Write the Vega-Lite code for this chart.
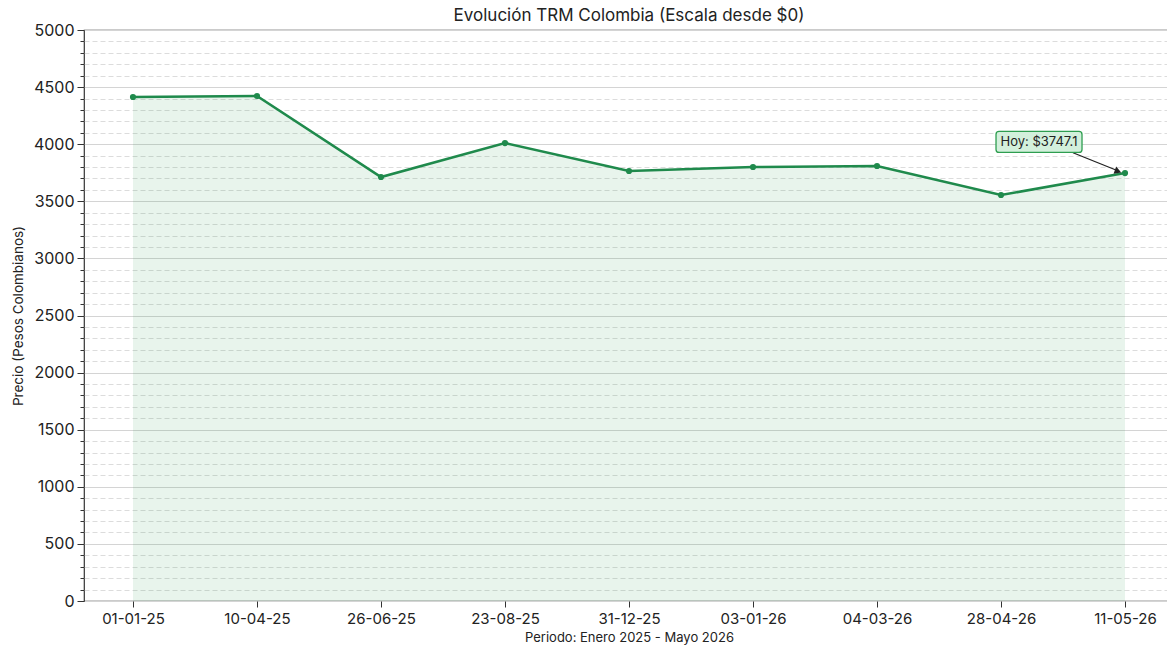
{
  "$schema": "https://vega.github.io/schema/vega-lite/v6.json",
  "width": 1090,
  "height": 571,
  "autosize": {"type": "none"},
  "padding": {"left": 84, "top": 30, "right": 0, "bottom": 45},
  "background": "white",
  "config": {
    "font": "Inter",
    "view": {"stroke": "#333333", "strokeWidth": 1.2},
    "axis": {"labelFont": "Inter", "titleFont": "Inter", "labelColor": "#222", "titleColor": "#222", "titleFontWeight": "normal"}
  },
  "title": {"text": "Evolución TRM Colombia (Escala desde $0)", "fontSize": 17, "fontWeight": "normal", "color": "#222", "offset": -3, "font": "Inter"},
  "datasets": {
    "trm": [
      {"fecha": "01-01-25", "precio": 4413},
      {"fecha": "10-04-25", "precio": 4422},
      {"fecha": "26-06-25", "precio": 3713},
      {"fecha": "23-08-25", "precio": 4010},
      {"fecha": "31-12-25", "precio": 3765},
      {"fecha": "03-01-26", "precio": 3800},
      {"fecha": "04-03-26", "precio": 3809},
      {"fecha": "28-04-26", "precio": 3555},
      {"fecha": "11-05-26", "precio": 3747.1}
    ],
    "nota": [
      {"fecha": "28-04-26", "fecha2": "11-05-26", "y": 4020, "ya": 3925, "yb": 3763, "label": "Hoy: $3747.1"}
    ]
  },
  "resolve": {"axis": {"y": "independent"}},
  "layer": [
    {
      "data": {"name": "trm"},
      "mark": {"type": "area", "color": "#2e9e50", "opacity": 0.11},
      "encoding": {
        "x": {"field": "fecha", "type": "ordinal", "sort": null, "scale": {"type": "point", "padding": 0.395},
          "axis": {"title": "Periodo: Enero 2025 - Mayo 2026", "titleFontSize": 13, "titlePadding": 5, "labelFontSize": 15, "labelAngle": 0, "labelPadding": 4, "tickSize": 6, "tickColor": "#333", "domain": false, "grid": false}},
        "y": {"field": "precio", "type": "quantitative", "scale": {"domain": [0, 5000], "nice": false, "zero": true},
          "axis": {"title": "Precio (Pesos Colombianos)", "titleFontSize": 13.5, "titlePadding": 8, "format": "d", "values": [0,500,1000,1500,2000,2500,3000,3500,4000,4500,5000], "labelFontSize": 16, "labelPadding": 3, "tickSize": 7, "tickColor": "#333", "domain": false, "grid": true, "gridColor": "#d4d4d4", "gridWidth": 1}}
      }
    },
    {
      "data": {"name": "trm"},
      "mark": {"type": "line", "color": "#1f8a4c", "strokeWidth": 2.6},
      "encoding": {
        "x": {"field": "fecha", "type": "ordinal", "sort": null},
        "y": {"field": "precio", "type": "quantitative",
          "axis": {"title": null, "orient": "left", "values": [100,200,300,400,600,700,800,900,1100,1200,1300,1400,1600,1700,1800,1900,2100,2200,2300,2400,2600,2700,2800,2900,3100,3200,3300,3400,3600,3700,3800,3900,4100,4200,4300,4400,4600,4700,4800,4900], "labels": false, "tickSize": 4, "tickColor": "#333", "domain": false, "grid": true, "gridColor": "#dcdcdc", "gridDash": [5, 3], "gridWidth": 1}}
      }
    },
    {
      "data": {"name": "trm"},
      "mark": {"type": "point", "filled": true, "color": "#1f8a4c", "size": 38, "opacity": 1},
      "encoding": {
        "x": {"field": "fecha", "type": "ordinal", "sort": null},
        "y": {"field": "precio", "type": "quantitative", "axis": null}
      }
    },
    {
      "data": {"name": "nota"},
      "mark": {"type": "rule", "color": "#222", "strokeWidth": 1.3, "xOffset": 72, "x2Offset": -6},
      "encoding": {
        "x": {"field": "fecha", "type": "ordinal", "sort": null},
        "x2": {"field": "fecha2"},
        "y": {"field": "ya", "type": "quantitative", "axis": null},
        "y2": {"field": "yb"}
      }
    },
    {
      "data": {"name": "nota"},
      "mark": {"type": "point", "shape": "triangle-right", "filled": true, "color": "#222", "size": 60, "angle": 20, "opacity": 1, "xOffset": -7},
      "encoding": {
        "x": {"field": "fecha2", "type": "ordinal", "sort": null},
        "y": {"field": "yb", "type": "quantitative", "axis": null}
      }
    },
    {
      "data": {"name": "nota"},
      "mark": {"type": "point", "shape": "M-0.93,-0.244 L0.93,-0.244 Q1,-0.244 1,-0.174 L1,0.174 Q1,0.244 0.93,0.244 L-0.93,0.244 Q-1,0.244 -1,0.174 L-1,-0.174 Q-1,-0.244 -0.93,-0.244 Z", "size": 7396, "filled": true, "fill": "#d3f0dc", "stroke": "#2e9e50", "strokeWidth": 1.3, "opacity": 1, "fillOpacity": 1, "xOffset": 38},
      "encoding": {
        "x": {"field": "fecha", "type": "ordinal", "sort": null},
        "y": {"field": "y", "type": "quantitative", "axis": null}
      }
    },
    {
      "data": {"name": "nota"},
      "mark": {"type": "text", "fontSize": 13, "color": "#222", "align": "center", "baseline": "middle", "dx": 38},
      "encoding": {
        "x": {"field": "fecha", "type": "ordinal", "sort": null},
        "y": {"field": "y", "type": "quantitative", "axis": null},
        "text": {"field": "label"}
      }
    }
  ]
}
